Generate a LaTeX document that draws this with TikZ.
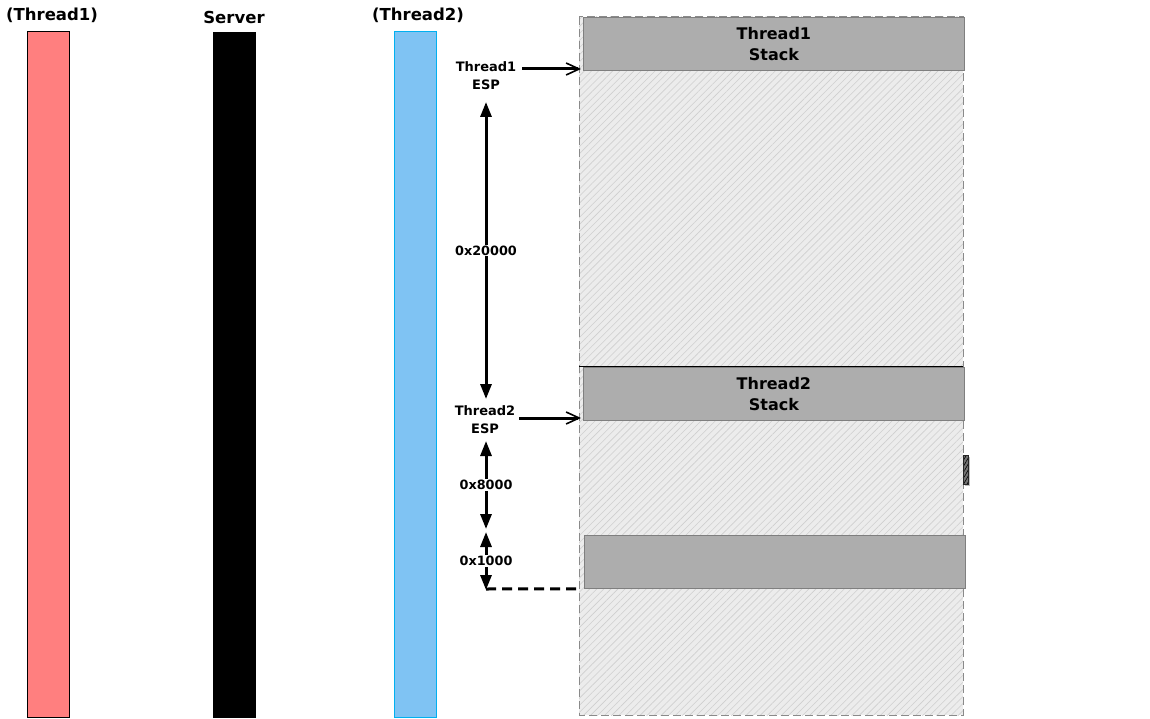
\documentclass[tikz,border=0pt]{standalone}
\usepackage{fontspec}
\setmainfont{DejaVu Sans}
\usetikzlibrary{arrows.meta,patterns.meta}
\definecolor{tredfill}{HTML}{FF7F7F}
\definecolor{tbluefill}{HTML}{7FC3F3}
\definecolor{tblueline}{HTML}{00B0F0}
\definecolor{stackgray}{HTML}{ADADAD}
\definecolor{stackedge}{HTML}{7F7F7F}
\definecolor{memfill}{HTML}{ECECEC}
\definecolor{hatchcol}{HTML}{CFCFCF}
\definecolor{borderdash}{HTML}{8A8A8A}
\tikzset{
  bar/.style={draw, line width=1pt, minimum width=42pt, inner sep=0pt},
  title/.style={font=\bfseries\fontsize{16.5}{18}\selectfont, inner sep=0pt},
  stackbox/.style={fill=stackgray, draw=stackedge, line width=0.8pt, minimum width=381pt,
    minimum height=53pt, inner sep=0pt, align=center, font=\bfseries\fontsize{16}{20.5}\selectfont},
  esplabel/.style={font=\bfseries\fontsize{13}{18}\selectfont, align=center, inner sep=0pt},
  sizelabel/.style={font=\bfseries\fontsize{12.8}{14}\selectfont, fill=white, inner sep=1pt},
  pointer/.style={line width=3pt, shorten >=2pt, -{Straight Barb[length=13pt,width=12pt,line width=1.6pt]}},
  span/.style={line width=3pt, {Triangle[length=15pt,width=11pt]}-{Triangle[length=15pt,width=11pt]}},
}
\begin{document}
\begin{tikzpicture}[x=1pt,y=-1pt]
\useasboundingbox (0,0) rectangle (1150,719);

% thread / server columns
\node[bar, fill=tredfill, minimum height=686pt, anchor=north west] (t1bar) at (27,31) {};
\node[bar, fill=black, minimum height=685pt, anchor=north west] (srvbar) at (213,32) {};
\node[bar, fill=tbluefill, draw=tblueline, minimum height=686pt, anchor=north west] (t2bar) at (394,31) {};
\node[title] (t1title) at (52,15) {(Thread1)};
\node[title] (srvtitle) at (234,17) {Server};
\node[title] (t2title) at (418,15) {(Thread2)};

% memory region
\fill[memfill] (579,17) rectangle (963,715);
\fill[pattern={Lines[angle=45,distance=5pt,line width=0.6pt]}, pattern color=hatchcol]
  (579,17) rectangle (963,715);
\draw[borderdash, line width=1pt, dash pattern=on 8pt off 4pt] (579,17) rectangle (963,715);
\draw[black, line width=1pt] (579,366) -- (963,366);

% stacks
\node[stackbox, anchor=north west] (t1stack) at (583,17) {Thread1\\Stack};
\node[stackbox, anchor=north west] (t2stack) at (583,367) {Thread2\\Stack};
\node[stackbox, anchor=north west] (guard) at (584,535) {};

% small marker on the right edge
\fill[black!25] (965,457) rectangle (970,486);
\node[draw=black!85, preaction={fill=black!55},
  pattern={Lines[angle=60,distance=3pt,line width=0.6pt]}, pattern color=black,
  minimum width=5pt, minimum height=29pt, inner sep=0pt, anchor=north west] (mark) at (963,455) {};

% ESP labels and pointers
\node[esplabel] (t1esp) at (486,76) {Thread1\\ESP};
\node[esplabel] (t2esp) at (485,420) {Thread2\\ESP};
\coordinate (t1ptr) at (522,69);
\coordinate (t2ptr) at (519,418);
\draw[pointer] (t1ptr) -- (t1ptr -| t1stack.west);
\draw[pointer] (t2ptr) -- (t2ptr -| t2stack.west);

% distances
\coordinate (a1) at (486,102);
\coordinate (a2) at (486,399);
\coordinate (b1) at (486,441);
\coordinate (b2) at (486,529);
\coordinate (c1) at (486,532);
\coordinate (c2) at (486,590);
\draw[span] (a1) -- (a2) node[sizelabel, midway] (s1) {0x20000};
\draw[span] (b1) -- (b2) node[sizelabel, midway] (s2) {0x8000};
\draw[span] (c1) -- (c2) node[sizelabel, midway] (s3) {0x1000};
\draw[line width=3pt, dash pattern=on 10pt off 6pt] (486,589) -- (guard.south west -| 578,0);
\end{tikzpicture}
\end{document}
